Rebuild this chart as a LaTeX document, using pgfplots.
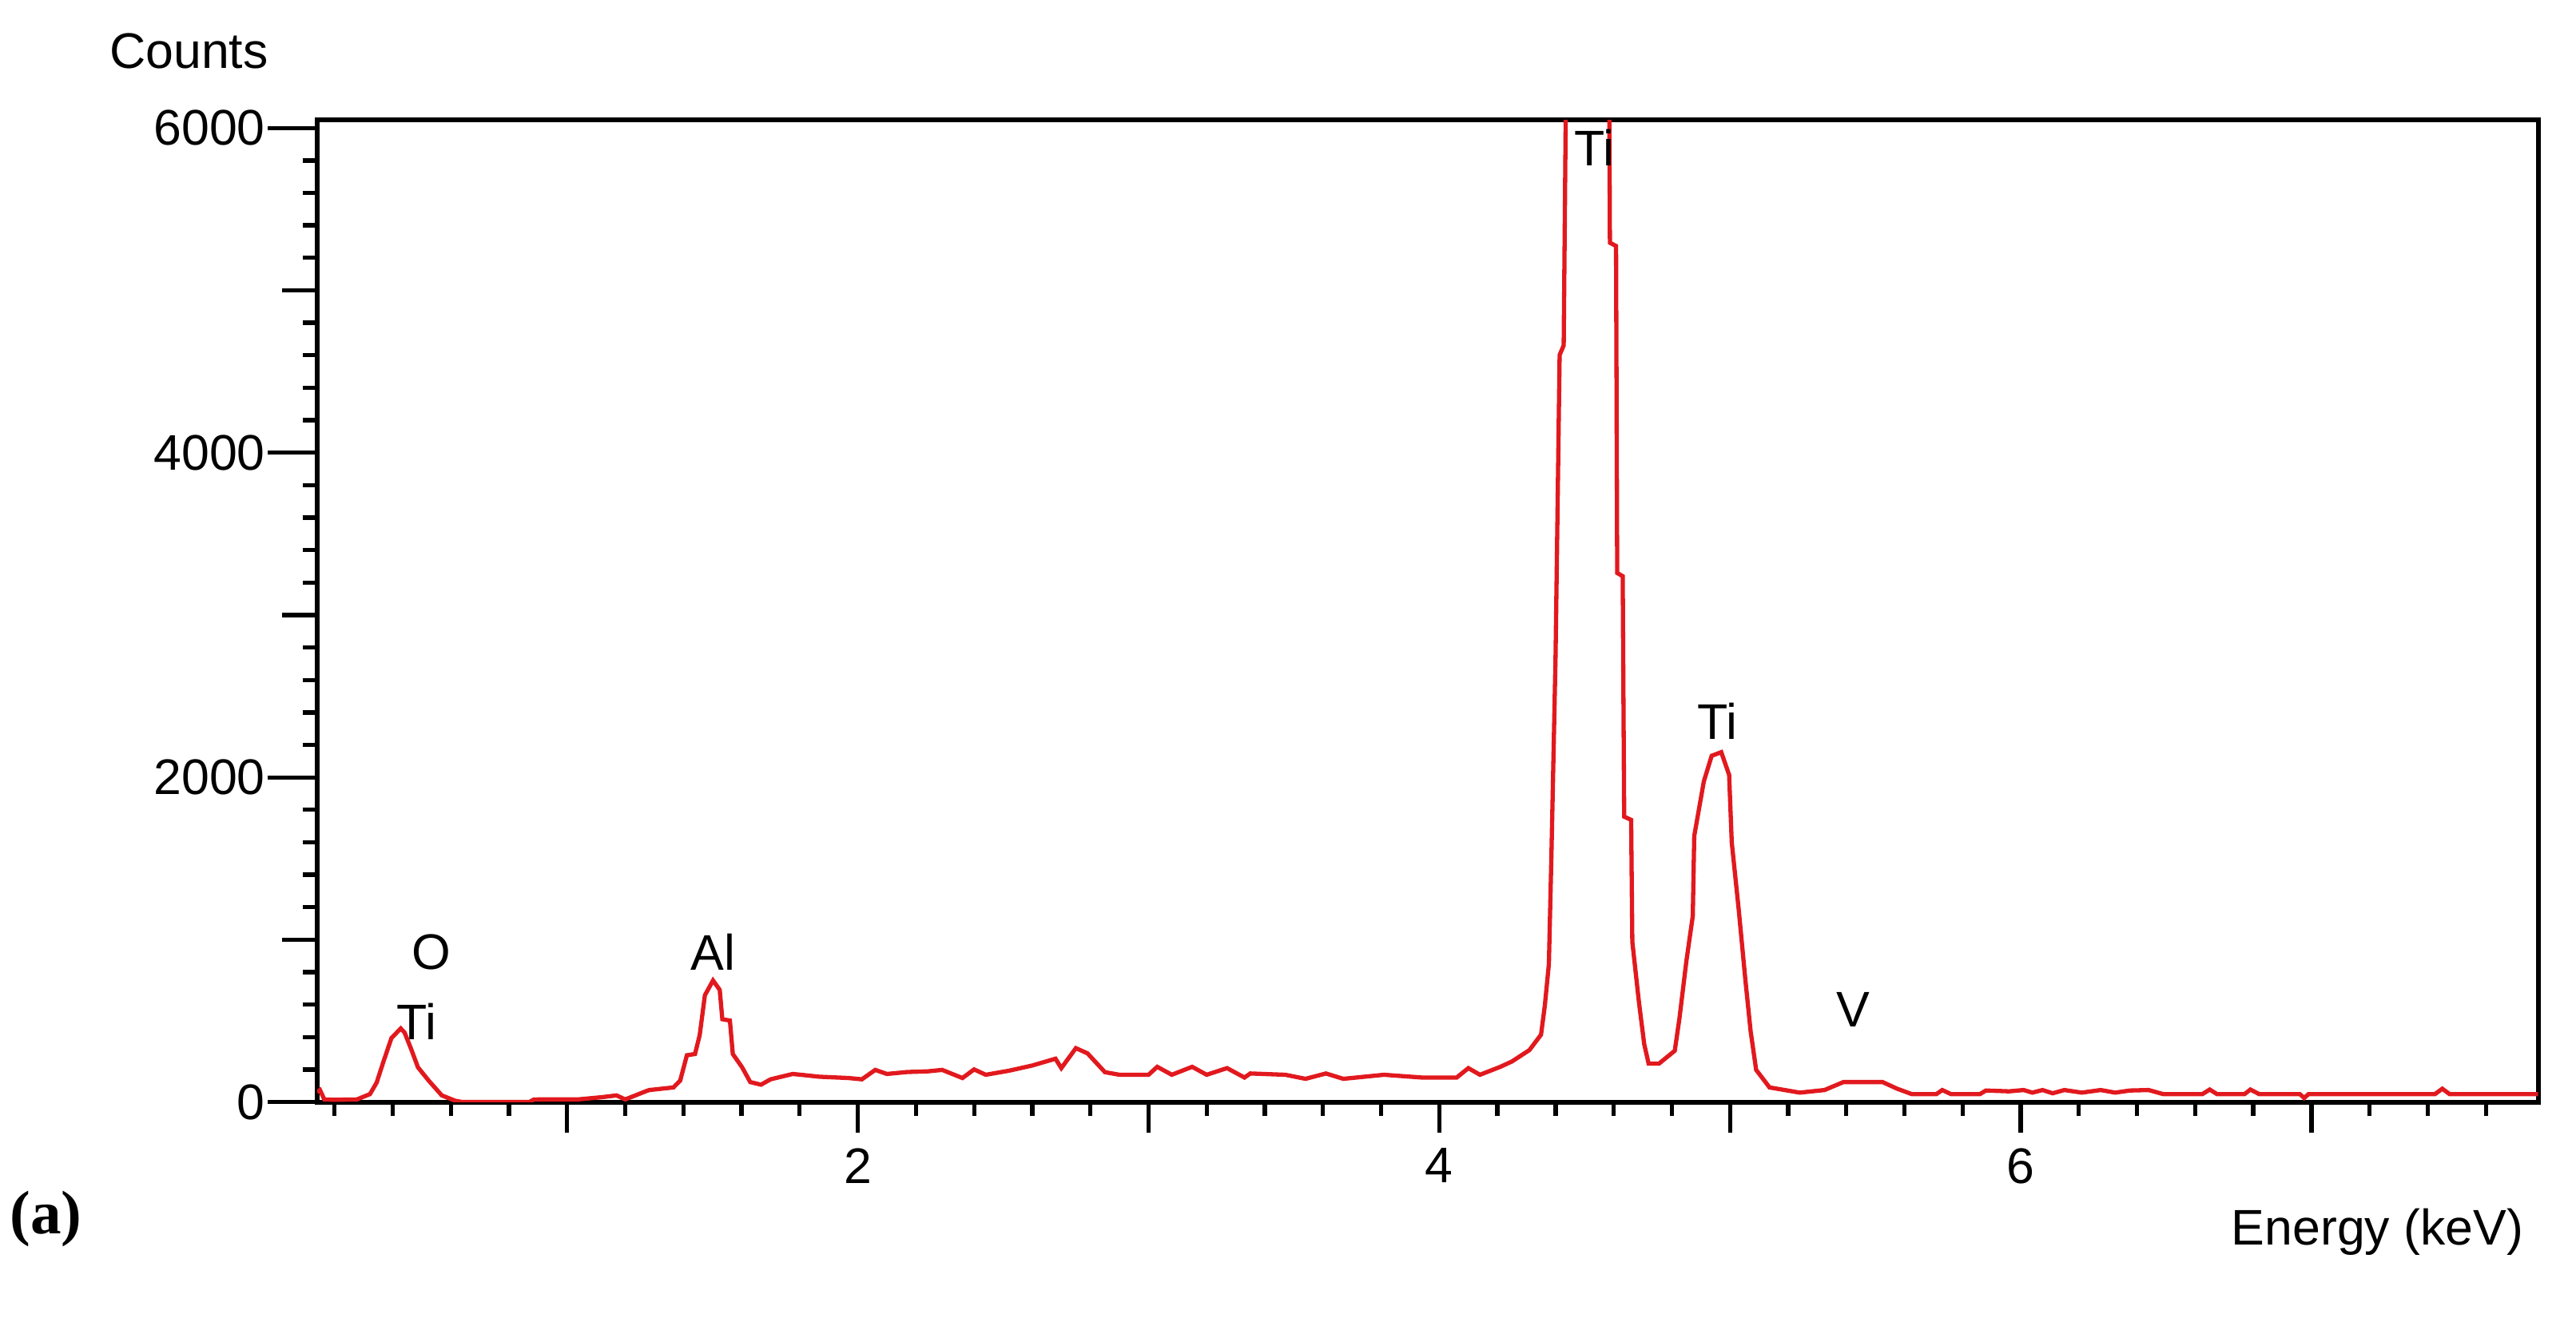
\documentclass[border=0pt]{standalone}
\usepackage{fontspec}
\usepackage{pgfplots}
\pgfplotsset{compat=1.18}
\setmainfont{Liberation Sans}
\newfontfamily\capfont{Liberation Serif}
\definecolor{edsred}{RGB}{225,25,30}

\begin{document}
\begin{tikzpicture}
\path[use as bounding box] (-2.895,-2.04) rectangle (20.625,10.065);
\begin{axis}[
  at={(0,0)}, anchor=south west,
  scale only axis, width=20.28cm, height=8.97cm,
  xmin=0.14, xmax=7.78, ymin=0, ymax=6050,
  axis line style={line width=1.2pt},
  tick style={black, line width=1.1pt},
  tick align=outside,
  xtick pos=bottom, ytick pos=left,
  xtick={2,4,6}, ytick={0,2000,4000,6000},
  minor xtick={0.2,0.4,...,7.61},
  minor ytick={200,400,...,5800},
  major tick length=0.45cm, minor tick length=0.13cm,
  xtick style={/pgfplots/major tick length=0.28cm},
  extra x ticks={1,3,5,7}, extra x tick labels={},
  extra x tick style={major tick length=0.2cm},
  extra y ticks={1000,3000,5000}, extra y tick labels={},
  extra y tick style={major tick length=0.32cm},
  tick label style={font=\fontsize{13}{15}\selectfont},
  xticklabel style={yshift=0.15cm},
  yticklabel style={xshift=0.1cm},
  /pgf/number format/assume math mode=true,
  /pgf/number format/1000 sep={},
  scaled y ticks=false,
]
\addplot[edsred, line width=1.1pt] coordinates {
 (0.14,60) (0.15,74) (0.165,16) (0.2,14) (0.277,16) (0.322,49) (0.345,120)
 (0.368,247) (0.396,395) (0.428,453) (0.441,428) (0.465,320) (0.487,214)
 (0.524,132) (0.569,41) (0.615,8) (0.64,0) (0.87,0) (0.885,15) (0.899,16)
 (1.036,16) (1.12,30) (1.17,41) (1.2,16) (1.27,66) (1.283,74) (1.366,90)
 (1.389,132) (1.412,288) (1.44,296) (1.456,411) (1.474,658) (1.502,749)
 (1.525,691) (1.534,510) (1.56,502) (1.57,296) (1.602,214) (1.63,123)
 (1.667,107) (1.70,140) (1.776,173) (1.82,165) (1.867,156) (1.968,148)
 (2.014,140) (2.06,198) (2.10,173) (2.17,185) (2.24,189) (2.29,198)
 (2.36,148) (2.40,201) (2.44,168) (2.52,193) (2.60,225) (2.68,267)
 (2.70,209) (2.75,332) (2.79,300) (2.85,184) (2.90,168) (3.00,168)
 (3.03,217) (3.08,168) (3.15,217) (3.20,168) (3.27,209) (3.33,151)
 (3.35,176) (3.47,168) (3.54,143) (3.61,176) (3.67,143) (3.81,168)
 (3.94,151) (4.06,151) (4.10,209) (4.14,168) (4.21,217) (4.25,250)
 (4.31,320) (4.35,415) (4.363,593) (4.377,850) (4.386,1540) (4.40,2745)
 (4.414,4602) (4.428,4661) (4.436,6300) (4.45,8000) (4.51,9000) (4.57,8000)
 (4.584,6500) (4.587,5293) (4.608,5273) (4.612,3259) (4.631,3239)
 (4.636,1758) (4.66,1738) (4.664,987) (4.687,612) (4.705,356) (4.72,237)
 (4.756,237) (4.81,316) (4.826,514) (4.85,869) (4.872,1146) (4.877,1639)
 (4.91,1975) (4.937,2133) (4.97,2155) (4.997,2015) (5.006,1600) (5.03,1185)
 (5.053,750) (5.071,435) (5.09,198) (5.136,90) (5.24,58) (5.325,74)
 (5.39,123) (5.525,123) (5.575,82) (5.625,49) (5.71,49) (5.73,74) (5.76,49)
 (5.86,49) (5.88,71) (5.96,66) (6.01,74) (6.04,58) (6.075,74) (6.11,54)
 (6.15,74) (6.21,58) (6.275,74) (6.325,58) (6.375,71) (6.44,74) (6.49,49)
 (6.625,49) (6.65,77) (6.675,49) (6.77,49) (6.79,77) (6.82,49) (6.96,49)
 (6.975,25) (6.99,49) (7.425,49) (7.45,82) (7.475,49) (7.78,49)
};
\node[font=\fontsize{13}{15}\selectfont] at (axis cs:0.534,924) {O};
\node[font=\fontsize{13}{15}\selectfont] at (axis cs:0.483,497) {Ti};
\node[font=\fontsize{13}{15}\selectfont] at (axis cs:1.503,924) {Al};
\node[font=\fontsize{13}{15}\selectfont] at (axis cs:4.533,5877) {Ti};
\node[font=\fontsize{13}{15}\selectfont] at (axis cs:4.956,2345) {Ti};
\node[font=\fontsize{13}{15}\selectfont] at (axis cs:5.424,568) {V};
\end{axis}
\node[font=\fontsize{13}{15}\selectfont] at (-1.17,9.6) {Counts};
\node[font=\fontsize{13}{15}\selectfont, anchor=east] at (20.27,-1.185) {Energy (keV)};
\node[font=\capfont\bfseries\fontsize{16}{19}\selectfont] at (-2.475,-1.065) {(a)};
\end{tikzpicture}
\end{document}
